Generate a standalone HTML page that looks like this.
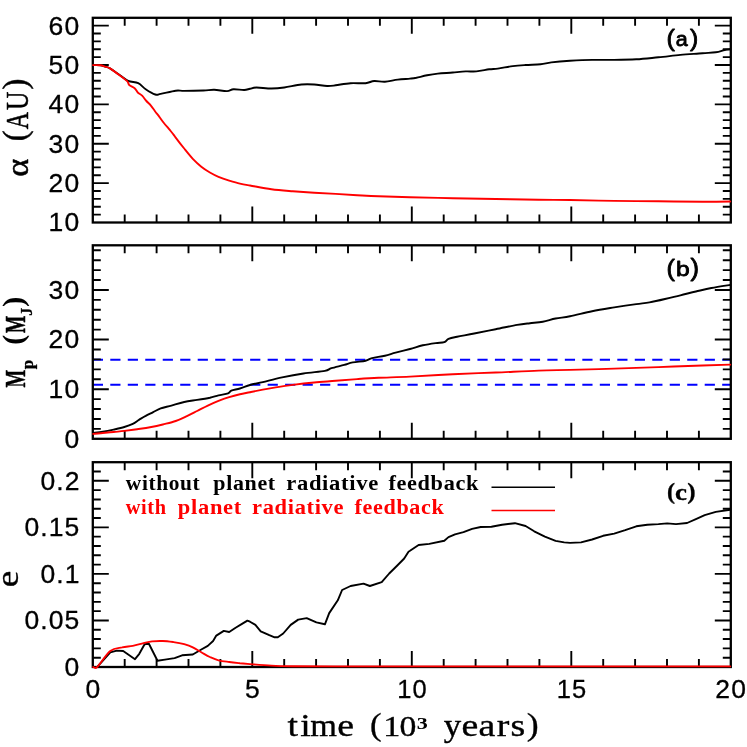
<!DOCTYPE html>
<html><head><meta charset="utf-8"><title>chart</title>
<style>
html,body{margin:0;padding:0;background:#fff;}
body{width:747px;height:747px;overflow:hidden;}
svg{display:block;will-change:transform;}
text{font-family:"Liberation Sans",sans-serif;fill:#000;}
.tk{font-size:24px;letter-spacing:1.5px;}
.ser{font-family:"Liberation Serif",serif;}
.f{fill:none;stroke:#000;stroke-width:2.3;stroke-linecap:butt;}
.t{fill:none;stroke:#000;stroke-width:1.9;stroke-linecap:butt;}
.c{fill:none;stroke-width:1.9;stroke-linejoin:round;stroke-linecap:round;}
</style></head><body>
<svg width="747" height="747" viewBox="0 0 747 747">
<rect width="747" height="747" fill="#fff"/>

<path class="t" d="M124.70,222.50v-8M124.70,17.80v8M156.60,222.50v-8M156.60,17.80v8M188.50,222.50v-8M188.50,17.80v8M220.40,222.50v-8M220.40,17.80v8M252.30,222.50v-16M252.30,17.80v16M284.20,222.50v-8M284.20,17.80v8M316.10,222.50v-8M316.10,17.80v8M348.00,222.50v-8M348.00,17.80v8M379.90,222.50v-8M379.90,17.80v8M411.80,222.50v-16M411.80,17.80v16M443.70,222.50v-8M443.70,17.80v8M475.60,222.50v-8M475.60,17.80v8M507.50,222.50v-8M507.50,17.80v8M539.40,222.50v-8M539.40,17.80v8M571.30,222.50v-16M571.30,17.80v16M603.20,222.50v-8M603.20,17.80v8M635.10,222.50v-8M635.10,17.80v8M667.00,222.50v-8M667.00,17.80v8M698.90,222.50v-8M698.90,17.80v8M92.80,214.63h8M730.80,214.63h-8M92.80,206.75h8M730.80,206.75h-8M92.80,198.88h8M730.80,198.88h-8M92.80,191.01h8M730.80,191.01h-8M92.80,183.13h16M730.80,183.13h-16M92.80,175.26h8M730.80,175.26h-8M92.80,167.39h8M730.80,167.39h-8M92.80,159.52h8M730.80,159.52h-8M92.80,151.64h8M730.80,151.64h-8M92.80,143.77h16M730.80,143.77h-16M92.80,135.90h8M730.80,135.90h-8M92.80,128.02h8M730.80,128.02h-8M92.80,120.15h8M730.80,120.15h-8M92.80,112.28h8M730.80,112.28h-8M92.80,104.40h16M730.80,104.40h-16M92.80,96.53h8M730.80,96.53h-8M92.80,88.66h8M730.80,88.66h-8M92.80,80.78h8M730.80,80.78h-8M92.80,72.91h8M730.80,72.91h-8M92.80,65.04h16M730.80,65.04h-16M92.80,57.17h8M730.80,57.17h-8M92.80,49.29h8M730.80,49.29h-8M92.80,41.42h8M730.80,41.42h-8M92.80,33.55h8M730.80,33.55h-8M92.80,25.67h16M730.80,25.67h-16"/>
<rect class="f" x="92.8" y="17.8" width="638.00" height="204.70"/>
<text font-size="25" letter-spacing="1.0" style="font-family:'Liberation Sans';fill:#000;stroke:#000;stroke-width:0.3;stroke-linejoin:round;" transform="translate(48.62,231.40) scale(1.0600,1)">10</text>
<text font-size="25" letter-spacing="1.0" style="font-family:'Liberation Sans';fill:#000;stroke:#000;stroke-width:0.3;stroke-linejoin:round;" transform="translate(48.62,192.03) scale(1.0600,1)">20</text>
<text font-size="25" letter-spacing="1.0" style="font-family:'Liberation Sans';fill:#000;stroke:#000;stroke-width:0.3;stroke-linejoin:round;" transform="translate(48.62,152.67) scale(1.0600,1)">30</text>
<text font-size="25" letter-spacing="1.0" style="font-family:'Liberation Sans';fill:#000;stroke:#000;stroke-width:0.3;stroke-linejoin:round;" transform="translate(48.62,113.30) scale(1.0600,1)">40</text>
<text font-size="25" letter-spacing="1.0" style="font-family:'Liberation Sans';fill:#000;stroke:#000;stroke-width:0.3;stroke-linejoin:round;" transform="translate(48.62,73.94) scale(1.0600,1)">50</text>
<text font-size="25" letter-spacing="1.0" style="font-family:'Liberation Sans';fill:#000;stroke:#000;stroke-width:0.3;stroke-linejoin:round;" transform="translate(48.62,34.57) scale(1.0600,1)">60</text>
<path class="c" stroke="#000" d="M93.0,65.1C94.2,65.1 98.4,65.0 100.4,65.2C102.4,65.5 103.4,66.1 105.0,66.6C106.6,67.1 107.6,67.0 110.0,68.4C112.4,69.8 116.6,72.9 119.6,75.0C122.6,77.1 125.1,79.5 128.2,80.9C131.3,82.3 135.3,81.8 138.2,83.2C141.1,84.6 142.8,87.3 145.7,89.2C148.5,91.1 152.8,93.7 155.3,94.5C157.8,95.3 157.3,94.5 160.7,93.9C164.1,93.3 171.8,91.2 175.7,90.7C179.6,90.2 179.6,90.9 184.2,90.9C188.8,90.9 198.5,90.7 203.5,90.5C208.5,90.3 210.3,89.7 214.2,89.8C218.1,89.9 223.8,91.2 227.0,91.1C230.2,91.0 230.6,89.4 233.5,89.2C236.4,89.0 241.4,90.1 244.2,90.0C246.9,89.9 248.0,89.2 250.0,88.8C252.0,88.4 252.8,87.5 256.4,87.5C260.0,87.5 266.8,88.5 271.4,88.5C276.0,88.5 279.3,88.2 284.3,87.5C289.3,86.8 296.4,85.0 301.4,84.5C306.4,84.0 309.9,84.2 314.2,84.5C318.5,84.8 323.5,85.9 327.1,86.0C330.7,86.1 331.8,85.8 335.7,85.3C339.6,84.8 345.6,83.5 350.6,83.2C355.6,82.9 361.7,83.6 365.6,83.2C369.5,82.8 371.0,81.2 374.2,81.0C377.4,80.8 381.0,81.9 384.9,81.7C388.8,81.5 393.6,80.1 397.8,79.6C402.0,79.1 406.9,78.9 410.0,78.6C413.1,78.3 413.5,78.3 416.4,77.8C419.2,77.2 423.5,76.0 427.1,75.3C430.7,74.6 433.5,74.1 437.8,73.6C442.1,73.1 448.2,72.9 452.8,72.5C457.4,72.1 461.8,71.6 465.7,71.4C469.6,71.2 472.5,71.8 476.4,71.4C480.3,71.1 485.6,69.8 489.2,69.3C492.8,68.8 493.9,69.1 497.8,68.6C501.7,68.1 508.2,66.7 512.8,66.1C517.4,65.5 521.0,65.3 525.6,65.0C530.2,64.7 536.3,64.7 540.6,64.3C544.9,63.9 546.4,63.0 551.3,62.4C556.2,61.8 563.2,61.2 570.0,60.8C576.8,60.4 584.7,60.0 592.1,59.9C599.5,59.8 606.8,60.0 614.2,59.9C621.6,59.8 628.9,59.7 636.3,59.3C643.7,58.9 651.0,58.0 658.4,57.3C665.8,56.6 673.0,55.6 680.4,54.9C687.8,54.2 696.6,53.8 702.5,53.3C708.4,52.8 712.1,52.8 715.8,52.2C719.5,51.7 722.2,50.5 724.6,50.0C727.0,49.5 729.3,49.4 730.2,49.3"/>
<path class="c" stroke="#f00" d="M93.0,65.1C94.2,65.1 98.4,65.0 100.4,65.2C102.4,65.5 103.4,66.1 105.0,66.6C106.6,67.1 107.6,67.0 110.0,68.4C112.4,69.9 116.8,73.2 119.6,75.3C122.4,77.4 125.5,79.6 127.1,81.2C128.7,82.8 128.1,83.8 129.3,85.0C130.6,86.2 133.2,87.0 134.6,88.2C136.0,89.5 136.6,91.2 137.8,92.5C139.1,93.8 140.7,94.3 142.1,95.7C143.5,97.1 145.0,99.4 146.4,101.0C147.8,102.6 149.3,103.6 150.7,105.3C152.1,107.0 153.6,109.3 155.0,111.2C156.4,113.1 157.8,114.7 159.2,116.6C160.6,118.5 161.9,120.5 163.5,122.5C165.1,124.5 167.2,126.9 168.9,128.9C170.6,131.0 172.6,133.4 173.7,134.8C174.8,136.2 173.9,135.3 175.7,137.6C177.4,139.9 181.3,145.0 184.2,148.5C187.0,152.0 190.0,155.8 192.8,158.8C195.7,161.8 198.5,164.4 201.3,166.7C204.2,169.0 207.0,170.8 209.9,172.5C212.8,174.2 215.3,175.5 218.5,176.8C221.7,178.2 225.6,179.5 229.2,180.6C232.8,181.7 236.4,182.8 239.9,183.6C243.4,184.4 244.8,184.6 250.0,185.5C255.2,186.4 264.3,188.2 271.4,189.2C278.5,190.2 285.7,190.7 292.8,191.3C299.9,191.9 307.1,192.4 314.2,192.8C321.3,193.2 328.5,193.5 335.7,193.9C342.9,194.3 350.0,194.8 357.1,195.2C364.2,195.6 369.7,196.0 378.5,196.3C387.3,196.6 397.6,196.9 410.0,197.2C422.4,197.5 438.5,197.9 452.8,198.2C467.1,198.5 481.4,198.8 495.7,199.0C510.0,199.2 526.1,199.5 538.5,199.7C550.9,199.9 557.4,199.8 570.0,200.0C582.6,200.2 599.5,200.7 614.2,200.9C628.9,201.1 643.7,201.2 658.4,201.3C673.1,201.5 690.5,201.8 702.5,201.8C714.5,201.8 725.6,201.6 730.2,201.5"/>
<path d="M92.8,359.8H730.8M92.8,384.85H730.8" fill="none" stroke="#00f" stroke-width="2.0" stroke-dasharray="10.2 7.283"/>
<path class="t" d="M124.70,438.80v-8M124.70,245.30v8M156.60,438.80v-8M156.60,245.30v8M188.50,438.80v-8M188.50,245.30v8M220.40,438.80v-8M220.40,245.30v8M252.30,438.80v-16M252.30,245.30v16M284.20,438.80v-8M284.20,245.30v8M316.10,438.80v-8M316.10,245.30v8M348.00,438.80v-8M348.00,245.30v8M379.90,438.80v-8M379.90,245.30v8M411.80,438.80v-16M411.80,245.30v16M443.70,438.80v-8M443.70,245.30v8M475.60,438.80v-8M475.60,245.30v8M507.50,438.80v-8M507.50,245.30v8M539.40,438.80v-8M539.40,245.30v8M571.30,438.80v-16M571.30,245.30v16M603.20,438.80v-8M603.20,245.30v8M635.10,438.80v-8M635.10,245.30v8M667.00,438.80v-8M667.00,245.30v8M698.90,438.80v-8M698.90,245.30v8M92.80,428.88h8M730.80,428.88h-8M92.80,418.95h8M730.80,418.95h-8M92.80,409.03h8M730.80,409.03h-8M92.80,399.11h8M730.80,399.11h-8M92.80,389.18h16M730.80,389.18h-16M92.80,379.26h8M730.80,379.26h-8M92.80,369.34h8M730.80,369.34h-8M92.80,359.42h8M730.80,359.42h-8M92.80,349.49h8M730.80,349.49h-8M92.80,339.57h16M730.80,339.57h-16M92.80,329.65h8M730.80,329.65h-8M92.80,319.72h8M730.80,319.72h-8M92.80,309.80h8M730.80,309.80h-8M92.80,299.88h8M730.80,299.88h-8M92.80,289.95h16M730.80,289.95h-16M92.80,280.03h8M730.80,280.03h-8M92.80,270.11h8M730.80,270.11h-8M92.80,260.18h8M730.80,260.18h-8M92.80,250.26h8M730.80,250.26h-8"/>
<rect class="f" x="92.8" y="245.3" width="638.00" height="193.50"/>
<text font-size="25" letter-spacing="1.0" style="font-family:'Liberation Sans';fill:#000;stroke:#000;stroke-width:0.3;stroke-linejoin:round;" transform="translate(64.42,447.70) scale(1.0600,1)">0</text>
<text font-size="25" letter-spacing="1.0" style="font-family:'Liberation Sans';fill:#000;stroke:#000;stroke-width:0.3;stroke-linejoin:round;" transform="translate(48.62,398.08) scale(1.0600,1)">10</text>
<text font-size="25" letter-spacing="1.0" style="font-family:'Liberation Sans';fill:#000;stroke:#000;stroke-width:0.3;stroke-linejoin:round;" transform="translate(48.62,348.47) scale(1.0600,1)">20</text>
<text font-size="25" letter-spacing="1.0" style="font-family:'Liberation Sans';fill:#000;stroke:#000;stroke-width:0.3;stroke-linejoin:round;" transform="translate(48.62,298.85) scale(1.0600,1)">30</text>
<path class="c" stroke="#000" d="M93.2,433.0C94.8,432.8 99.4,432.4 102.8,431.8C106.2,431.2 110.0,430.4 113.6,429.6C117.2,428.8 121.1,428.0 124.3,427.0C127.5,426.0 130.3,425.0 132.8,423.8C135.3,422.6 137.2,420.9 139.3,419.6C141.5,418.3 143.4,417.1 145.7,415.9C148.0,414.6 150.7,413.4 153.2,412.1C155.7,410.9 157.7,409.5 160.7,408.4C163.7,407.3 167.5,406.7 171.4,405.6C175.3,404.5 179.9,402.9 184.2,402.0C188.5,401.1 192.8,400.6 197.1,399.9C201.4,399.2 206.3,398.4 209.9,397.7C213.5,396.9 215.5,396.1 218.5,395.4C221.5,394.7 226.0,394.2 228.1,393.4C230.2,392.6 229.3,391.4 231.3,390.6C233.3,389.8 236.8,389.4 239.9,388.5C243.0,387.6 246.2,386.1 250.0,385.0C253.8,383.9 257.4,383.4 262.8,382.1C268.2,380.8 275.3,378.8 282.1,377.4C288.9,376.0 296.4,374.6 303.5,373.5C310.6,372.4 320.2,371.8 324.9,370.9C329.5,370.0 328.2,369.2 331.4,368.2C334.6,367.2 340.6,365.9 344.2,364.9C347.8,363.9 349.2,363.1 352.8,362.4C356.4,361.7 362.4,361.4 365.6,360.7C368.8,360.0 368.9,358.9 372.1,358.1C375.3,357.3 381.0,356.6 384.9,355.7C388.8,354.8 391.4,353.8 395.6,352.7C399.8,351.6 405.5,350.2 410.0,349.0C414.5,347.8 418.5,346.3 422.8,345.3C427.1,344.3 432.1,343.6 435.7,343.1C439.3,342.6 442.2,342.8 444.3,342.1C446.4,341.4 446.4,339.8 448.5,338.9C450.6,338.0 452.8,337.6 457.1,336.7C461.4,335.8 467.8,334.8 474.2,333.5C480.6,332.2 488.5,330.6 495.7,329.2C502.9,327.8 511.4,325.9 517.1,324.9C522.8,323.9 525.6,323.7 529.9,323.2C534.2,322.7 538.5,322.5 542.8,321.7C547.1,320.9 551.1,319.4 555.6,318.5C560.1,317.6 563.9,317.5 570.0,316.3C576.1,315.1 584.7,312.7 592.1,311.2C599.5,309.7 606.8,308.6 614.2,307.4C621.6,306.2 630.4,304.9 636.3,304.1C642.2,303.3 644.7,303.2 649.5,302.4C654.3,301.5 659.9,300.2 665.0,299.0C670.1,297.8 675.2,296.6 680.4,295.3C685.5,294.1 690.7,292.7 695.9,291.5C701.1,290.3 705.7,289.1 711.4,288.0C717.1,286.9 727.1,285.4 730.2,284.9"/>
<path class="c" stroke="#f00" d="M93.2,433.9C94.8,433.8 99.4,433.3 102.8,433.0C106.2,432.7 110.0,432.4 113.6,432.0C117.2,431.6 120.4,431.4 124.3,430.9C128.2,430.4 132.8,429.8 137.1,429.2C141.4,428.6 145.7,428.1 150.0,427.3C154.3,426.5 158.5,425.6 162.8,424.5C167.1,423.4 171.8,422.4 175.7,421.0C179.6,419.6 182.8,418.0 186.4,416.3C190.0,414.6 193.5,412.8 197.1,411.0C200.7,409.2 204.2,407.3 207.8,405.6C211.4,403.9 214.9,402.3 218.5,400.9C222.1,399.5 225.6,398.2 229.2,397.1C232.8,396.0 236.4,395.1 239.9,394.3C243.4,393.5 246.2,393.0 250.0,392.2C253.8,391.4 258.5,390.4 262.8,389.6C267.1,388.8 270.7,388.2 275.7,387.4C280.7,386.6 286.4,385.7 292.8,384.9C299.2,384.1 307.1,383.2 314.2,382.5C321.3,381.8 328.5,381.4 335.7,380.8C342.9,380.2 350.0,379.6 357.1,379.1C364.2,378.6 369.7,378.2 378.5,377.8C387.3,377.4 397.6,377.2 410.0,376.6C422.4,376.0 438.5,374.9 452.8,374.2C467.1,373.5 481.4,373.1 495.7,372.5C510.0,371.9 526.1,371.0 538.5,370.6C550.9,370.2 557.4,370.2 570.0,369.9C582.6,369.6 599.5,369.1 614.2,368.6C628.9,368.1 643.7,367.6 658.4,367.1C673.1,366.6 690.5,365.9 702.5,365.5C714.5,365.1 725.6,364.8 730.2,364.6"/>
<path class="t" d="M124.70,667.00v-8M124.70,462.20v8M156.60,667.00v-8M156.60,462.20v8M188.50,667.00v-8M188.50,462.20v8M220.40,667.00v-8M220.40,462.20v8M252.30,667.00v-16M252.30,462.20v16M284.20,667.00v-8M284.20,462.20v8M316.10,667.00v-8M316.10,462.20v8M348.00,667.00v-8M348.00,462.20v8M379.90,667.00v-8M379.90,462.20v8M411.80,667.00v-16M411.80,462.20v16M443.70,667.00v-8M443.70,462.20v8M475.60,667.00v-8M475.60,462.20v8M507.50,667.00v-8M507.50,462.20v8M539.40,667.00v-8M539.40,462.20v8M571.30,667.00v-16M571.30,462.20v16M603.20,667.00v-8M603.20,462.20v8M635.10,667.00v-8M635.10,462.20v8M667.00,667.00v-8M667.00,462.20v8M698.90,667.00v-8M698.90,462.20v8M92.80,657.69h8M730.80,657.69h-8M92.80,648.38h8M730.80,648.38h-8M92.80,639.07h8M730.80,639.07h-8M92.80,629.76h8M730.80,629.76h-8M92.80,620.45h16M730.80,620.45h-16M92.80,611.15h8M730.80,611.15h-8M92.80,601.84h8M730.80,601.84h-8M92.80,592.53h8M730.80,592.53h-8M92.80,583.22h8M730.80,583.22h-8M92.80,573.91h16M730.80,573.91h-16M92.80,564.60h8M730.80,564.60h-8M92.80,555.29h8M730.80,555.29h-8M92.80,545.98h8M730.80,545.98h-8M92.80,536.67h8M730.80,536.67h-8M92.80,527.36h16M730.80,527.36h-16M92.80,518.05h8M730.80,518.05h-8M92.80,508.75h8M730.80,508.75h-8M92.80,499.44h8M730.80,499.44h-8M92.80,490.13h8M730.80,490.13h-8M92.80,480.82h16M730.80,480.82h-16M92.80,471.51h8M730.80,471.51h-8"/>
<rect class="f" x="92.8" y="462.2" width="638.00" height="204.80"/>
<text font-size="25" letter-spacing="1.0" style="font-family:'Liberation Sans';fill:#000;stroke:#000;stroke-width:0.3;stroke-linejoin:round;" transform="translate(64.42,675.90) scale(1.0600,1)">0</text>
<text font-size="25" letter-spacing="1.0" style="font-family:'Liberation Sans';fill:#000;stroke:#000;stroke-width:0.3;stroke-linejoin:round;" transform="translate(24.53,629.35) scale(1.0600,1)">0.05</text>
<text font-size="25" letter-spacing="1.0" style="font-family:'Liberation Sans';fill:#000;stroke:#000;stroke-width:0.3;stroke-linejoin:round;" transform="translate(40.46,582.81) scale(1.0600,1)">0.1</text>
<text font-size="25" letter-spacing="1.0" style="font-family:'Liberation Sans';fill:#000;stroke:#000;stroke-width:0.3;stroke-linejoin:round;" transform="translate(24.53,536.26) scale(1.0600,1)">0.15</text>
<text font-size="25" letter-spacing="1.0" style="font-family:'Liberation Sans';fill:#000;stroke:#000;stroke-width:0.3;stroke-linejoin:round;" transform="translate(40.46,489.72) scale(1.0600,1)">0.2</text>
<polyline class="c" stroke="#000" points="93.2,667.0 97.5,666.7 110.3,652.3 116.8,650.6 123.2,651.0 135.0,659.2 139.3,653.8 144.6,644.2 148.9,643.8 157.5,660.7 164.9,659.6 174.6,658.1 182.1,655.3 192.8,654.5 201.3,649.5 207.8,645.9 213.1,641.0 216.3,635.6 223.8,630.9 229.2,632.0 235.6,627.7 242.0,623.9 247.4,620.6 250.0,621.7 255.4,624.9 260.7,631.3 269.3,635.2 274.6,637.3 277.8,637.3 283.2,633.5 290.7,624.9 298.2,619.6 306.7,618.1 316.4,622.4 324.9,624.3 329.2,613.1 337.8,600.3 342.1,590.0 350.6,586.0 363.5,583.6 369.9,586.0 381.7,582.1 389.2,573.5 397.8,565.0 404.2,558.5 408.5,551.7 410.0,550.8 418.6,545.0 429.3,543.9 444.3,540.7 448.5,537.1 455.0,534.3 463.5,532.2 472.1,528.9 480.7,527.0 491.4,526.8 502.1,524.7 514.9,523.2 525.6,526.0 534.2,531.3 544.9,536.7 555.6,540.9 564.2,542.4 570.0,542.9 581.0,542.4 592.1,539.5 603.1,535.8 614.2,533.6 625.2,530.2 636.3,526.3 647.3,524.7 658.4,524.1 667.2,523.4 676.0,524.1 687.1,523.0 695.9,519.2 704.7,515.2 715.8,511.9 730.2,509.7"/>
<path class="c" stroke="#f00" d="M93.2,667.0C93.9,667.0 94.7,669.4 97.5,666.7C100.3,664.0 106.2,654.2 110.3,651.0C114.4,647.8 118.3,648.2 122.1,647.4C125.8,646.5 129.2,646.6 132.8,645.9C136.4,645.2 140.3,643.9 143.5,643.1C146.7,642.4 148.9,641.8 152.1,641.4C155.3,641.0 159.2,640.9 162.8,641.0C166.4,641.1 169.9,641.6 173.5,642.1C177.1,642.6 181.0,643.3 184.2,644.2C187.4,645.1 190.0,646.0 192.8,647.4C195.7,648.8 198.5,650.7 201.3,652.3C204.2,653.9 207.0,655.7 209.9,657.0C212.8,658.3 215.3,659.5 218.5,660.3C221.7,661.1 225.6,661.5 229.2,662.0C232.8,662.5 236.4,662.9 239.9,663.3C243.4,663.6 244.8,663.7 250.0,664.1C255.2,664.5 264.3,665.2 271.4,665.6C278.5,666.0 282.1,666.1 292.8,666.2C303.5,666.3 316.2,666.4 335.7,666.4C355.2,666.4 344.2,666.4 410.0,666.4C475.8,666.4 676.8,666.4 730.2,666.4"/>
<text font-size="25" letter-spacing="1.0" style="font-family:'Liberation Sans';fill:#000;stroke:#000;stroke-width:0.3;stroke-linejoin:round;" transform="translate(85.45,697.60) scale(1.0600,1)">0</text>
<text font-size="25" letter-spacing="1.0" style="font-family:'Liberation Sans';fill:#000;stroke:#000;stroke-width:0.3;stroke-linejoin:round;" transform="translate(244.95,697.60) scale(1.0600,1)">5</text>
<text font-size="25" letter-spacing="1.0" style="font-family:'Liberation Sans';fill:#000;stroke:#000;stroke-width:0.3;stroke-linejoin:round;" transform="translate(397.21,697.60) scale(1.0200,1)">10</text>
<text font-size="25" letter-spacing="1.0" style="font-family:'Liberation Sans';fill:#000;stroke:#000;stroke-width:0.3;stroke-linejoin:round;" transform="translate(556.78,697.60) scale(1.0200,1)">15</text>
<text font-size="25" letter-spacing="1.0" style="font-family:'Liberation Sans';fill:#000;stroke:#000;stroke-width:0.3;stroke-linejoin:round;" transform="translate(715.35,697.60) scale(1.0600,1)">20</text>
<text font-size="31" style="font-family:'Liberation Serif';fill:#000;stroke:#000;stroke-width:0.35;stroke-linejoin:round;" transform="translate(287.41,736.20) scale(1.2200,1)">t</text>
<text font-size="31" style="font-family:'Liberation Serif';fill:#000;stroke:#000;stroke-width:0.35;stroke-linejoin:round;" transform="translate(300.21,736.20) scale(1.2200,1)">i</text>
<text font-size="31" style="font-family:'Liberation Serif';fill:#000;stroke:#000;stroke-width:0.35;stroke-linejoin:round;" transform="translate(310.31,736.20) scale(1.1085,1)">m</text>
<text font-size="31" style="font-family:'Liberation Serif';fill:#000;stroke:#000;stroke-width:0.35;stroke-linejoin:round;" transform="translate(337.29,736.20) scale(1.2200,1)">e</text>
<text font-size="29" style="font-family:'Liberation Serif';fill:#000;stroke:#000;stroke-width:0.35;stroke-linejoin:round;" transform="translate(383.30,736.20) scale(1.1753,1)">1</text>
<text font-size="29" style="font-family:'Liberation Serif';fill:#000;stroke:#000;stroke-width:0.35;stroke-linejoin:round;" transform="translate(399.42,736.20) scale(1.1628,1)">0</text>
<text font-size="31" style="font-family:'Liberation Serif';fill:#000;stroke:#000;stroke-width:0.35;stroke-linejoin:round;" transform="translate(443.85,736.20) scale(1.1257,1)">y</text>
<text font-size="31" style="font-family:'Liberation Serif';fill:#000;stroke:#000;stroke-width:0.35;stroke-linejoin:round;" transform="translate(461.39,736.20) scale(1.2200,1)">e</text>
<text font-size="31" style="font-family:'Liberation Serif';fill:#000;stroke:#000;stroke-width:0.35;stroke-linejoin:round;" transform="translate(478.46,736.20) scale(1.2200,1)">a</text>
<text font-size="31" style="font-family:'Liberation Serif';fill:#000;stroke:#000;stroke-width:0.35;stroke-linejoin:round;" transform="translate(496.63,736.20) scale(1.2200,1)">r</text>
<text font-size="31" style="font-family:'Liberation Serif';fill:#000;stroke:#000;stroke-width:0.35;stroke-linejoin:round;" transform="translate(510.53,736.20) scale(1.2200,1)">s</text>
<text font-size="32.5" style="font-family:'Liberation Serif';fill:#000;stroke:#000;stroke-width:0.35;stroke-linejoin:round;" transform="translate(370.01,735.00) scale(1.0682,1)">(</text>
<text font-size="32.5" style="font-family:'Liberation Serif';fill:#000;stroke:#000;stroke-width:0.35;stroke-linejoin:round;" transform="translate(526.83,735.00) scale(1.1006,1)">)</text>
<text font-size="17" style="font-family:'Liberation Serif';fill:#000;font-weight:bold;" transform="translate(416.73,728.60) scale(1.2982,1)">3</text>
<g transform="translate(27.8,175.5) rotate(-90)">
<text font-size="31" style="font-family:'Liberation Serif';fill:#000;stroke:#000;stroke-width:0.5;stroke-linejoin:round;" transform="translate(-1.21,0.00) scale(1.1119,1)">α</text>
<text font-size="33" style="font-family:'Liberation Serif';fill:#000;stroke:#000;stroke-width:0.5;stroke-linejoin:round;" transform="translate(34.29,-1.60) scale(0.9949,1)">(</text>
<text font-size="32.5" style="font-family:'Liberation Serif';fill:#000;stroke:#000;stroke-width:0.5;stroke-linejoin:round;" transform="translate(46.28,0.00) scale(0.7324,1)">A</text>
<text font-size="32.5" style="font-family:'Liberation Serif';fill:#000;stroke:#000;stroke-width:0.5;stroke-linejoin:round;" transform="translate(65.59,0.00) scale(0.7861,1)">U</text>
<text font-size="33" style="font-family:'Liberation Serif';fill:#000;stroke:#000;stroke-width:0.5;stroke-linejoin:round;" transform="translate(86.12,-1.60) scale(0.9907,1)">)</text>
</g>
<g transform="translate(24.8,387.3) rotate(-90)">
<text font-size="29" style="font-family:'Liberation Serif';fill:#000;font-weight:bold;stroke:#000;stroke-width:0.5;stroke-linejoin:round;" transform="translate(-0.28,0.00) scale(0.6477,1)">M</text>
<text font-size="16.5" style="font-family:'Liberation Serif';fill:#000;font-weight:bold;stroke:#000;stroke-width:0.3;stroke-linejoin:round;" transform="translate(18.13,7.80) scale(1.0339,1)">p</text>
<text font-size="29.5" style="font-family:'Liberation Serif';fill:#000;font-weight:bold;" transform="translate(42.59,-1.60) scale(1.0233,1)">(</text>
<text font-size="29" style="font-family:'Liberation Serif';fill:#000;font-weight:bold;stroke:#000;stroke-width:0.5;stroke-linejoin:round;" transform="translate(54.22,0.00) scale(0.6363,1)">M</text>
<text font-size="16" style="font-family:'Liberation Serif';fill:#000;font-weight:bold;stroke:#000;stroke-width:0.3;stroke-linejoin:round;" transform="translate(71.67,7.00) scale(0.9914,1)">J</text>
<text font-size="29.5" style="font-family:'Liberation Serif';fill:#000;font-weight:bold;" transform="translate(80.27,-1.60) scale(1.0561,1)">)</text>
</g>
<g transform="translate(17.7,586) rotate(-90)">
<text font-size="32" style="font-family:'Liberation Serif';fill:#000;stroke:#000;stroke-width:0.3;stroke-linejoin:round;" transform="translate(-1.31,0.00) scale(1.1667,1)">e</text>
</g>
<text font-size="23.2" style="font-family:'Liberation Sans';fill:#000;stroke:#000;stroke-width:0.8;stroke-linejoin:round;" transform="translate(666.39,45.50) scale(1.0856,1)">(</text>
<text font-size="19.6" style="font-family:'Liberation Sans';fill:#000;stroke:#000;stroke-width:0.8;stroke-linejoin:round;" transform="translate(675.84,45.70) scale(1.0989,1)">a</text>
<text font-size="23.2" style="font-family:'Liberation Sans';fill:#000;stroke:#000;stroke-width:0.8;stroke-linejoin:round;" transform="translate(690.08,45.50) scale(1.0696,1)">)</text>
<text font-size="23.2" style="font-family:'Liberation Sans';fill:#000;stroke:#000;stroke-width:0.8;stroke-linejoin:round;" transform="translate(666.39,275.50) scale(1.0856,1)">(</text>
<text font-size="20.3" style="font-family:'Liberation Sans';fill:#000;stroke:#000;stroke-width:0.8;stroke-linejoin:round;" transform="translate(676.02,276.10) scale(1.2126,1)">b</text>
<text font-size="23.2" style="font-family:'Liberation Sans';fill:#000;stroke:#000;stroke-width:0.8;stroke-linejoin:round;" transform="translate(690.57,275.50) scale(1.1015,1)">)</text>
<text font-size="22.4" style="font-family:'Liberation Serif';fill:#000;font-weight:bold;stroke:#000;stroke-width:0.3;stroke-linejoin:round;" transform="translate(666.93,499.40) scale(1.0782,1)">(</text>
<text font-size="23" style="font-family:'Liberation Serif';fill:#000;font-weight:bold;stroke:#000;stroke-width:0.3;stroke-linejoin:round;" transform="translate(674.89,500.40) scale(1.1706,1)">c</text>
<text font-size="22.4" style="font-family:'Liberation Serif';fill:#000;font-weight:bold;stroke:#000;stroke-width:0.3;stroke-linejoin:round;" transform="translate(687.15,499.40) scale(1.1161,1)">)</text>
<text font-size="20.3" letter-spacing="0.6" style="font-family:'Liberation Serif';fill:#000;font-weight:bold;" transform="translate(125.80,490.30) scale(1.0544,1)">without</text>
<text font-size="20.3" letter-spacing="0.6" style="font-family:'Liberation Serif';fill:#000;font-weight:bold;" transform="translate(213.28,490.30) scale(1.0831,1)">planet</text>
<text font-size="20.3" letter-spacing="0.6" style="font-family:'Liberation Serif';fill:#000;font-weight:bold;" transform="translate(286.23,490.30) scale(1.1139,1)">radiative</text>
<text font-size="20.3" letter-spacing="0.6" style="font-family:'Liberation Serif';fill:#000;font-weight:bold;" transform="translate(388.39,490.30) scale(1.0979,1)">feedback</text>
<text font-size="20.3" letter-spacing="0.6" style="font-family:'Liberation Serif';fill:#f00;font-weight:bold;" transform="translate(125.80,514.00) scale(1.0019,1)">with</text>
<text font-size="20.3" letter-spacing="0.6" style="font-family:'Liberation Serif';fill:#f00;font-weight:bold;" transform="translate(177.87,514.00) scale(1.1094,1)">planet</text>
<text font-size="20.3" letter-spacing="0.6" style="font-family:'Liberation Serif';fill:#f00;font-weight:bold;" transform="translate(252.04,514.00) scale(1.1077,1)">radiative</text>
<text font-size="20.3" letter-spacing="0.6" style="font-family:'Liberation Serif';fill:#f00;font-weight:bold;" transform="translate(354.49,514.00) scale(1.0906,1)">feedback</text>
<path d="M491.5,487.3H555" stroke="#000" stroke-width="1.6" fill="none"/>
<path d="M491.5,510.5H555" stroke="#f00" stroke-width="1.6" fill="none"/>
</svg></body></html>
